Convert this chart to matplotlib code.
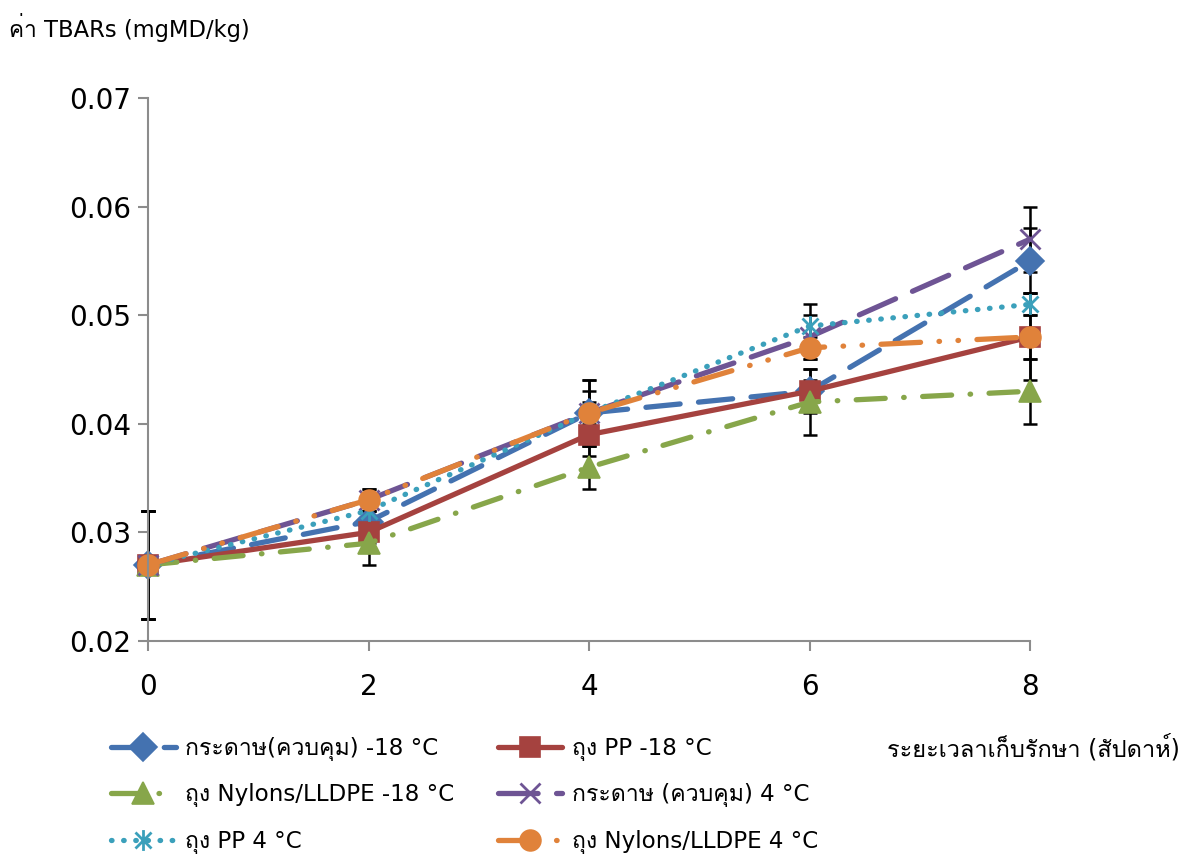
import numpy as np
import matplotlib
matplotlib.use('Agg')
import matplotlib.pyplot as plt
import matplotlib.font_manager as fm
from matplotlib.ft2font import FT2Font
from matplotlib.path import Path

# data
weeks = [0, 2, 4, 6, 8]
paper_m18 = [0.027, 0.031, 0.041, 0.043, 0.055]
pp_m18 = [0.027, 0.030, 0.039, 0.043, 0.048]
nylon_m18 = [0.027, 0.029, 0.036, 0.042, 0.043]
paper_4 = [0.027, 0.033, 0.041, 0.048, 0.057]
pp_4 = [0.027, 0.032, 0.041, 0.049, 0.051]
nylon_4 = [0.027, 0.033, 0.041, 0.047, 0.048]

err_paper_m18 = [0.005, 0.001, 0.001, 0.001, 0.003]
err_pp_m18 = [0.005, 0.001, 0.002, 0.002, 0.004]
err_nylon_m18 = [0.005, 0.002, 0.002, 0.003, 0.003]
err_paper_4 = [0.005, 0.001, 0.003, 0.002, 0.003]
err_pp_4 = [0.005, 0.001, 0.002, 0.002, 0.001]
err_nylon_4 = [0.005, 0.001, 0.003, 0.001, 0.002]

labels = ['กระดาษ(ควบคุม) -18 °C', 'ถุง PP -18 °C', 'ถุง Nylons/LLDPE -18 °C',
          'กระดาษ (ควบคุม) 4 °C', 'ถุง PP 4 °C', 'ถุง Nylons/LLDPE 4 °C']
y_ticks = [0.02, 0.03, 0.04, 0.05, 0.06, 0.07]
y_title = 'ค่า TBARs (mgMD/kg)'
x_title = 'ระยะเวลาเก็บรักษา (สัปดาห์)'


def thai_family():
    # pick an installed font that has Thai glyphs
    for f in fm.fontManager.ttflist:
        try:
            if 0x0E01 in FT2Font(f.fname).get_charmap():
                return f.name
        except Exception:
            pass
    return 'DejaVu Sans'


plt.rcParams['font.family'] = ['DejaVu Sans', thai_family()]

star = Path([(-1, -1), (1, 1), (-1, 1), (1, -1), (0, -1.3), (0, 1.3)],
            [Path.MOVETO, Path.LINETO, Path.MOVETO, Path.LINETO, Path.MOVETO, Path.LINETO])

series = [
    (paper_m18, err_paper_m18, '#4472B0', (0, (6.5, 3.5)), 'D', 14),
    (pp_m18, err_pp_m18, '#A5423F', '-', 's', 15),
    (nylon_m18, err_nylon_m18, '#87A64A', (0, (5.5, 3.5, 0.1, 3.5)), '^', 16),
    (paper_4, err_paper_4, '#6E5494', (0, (7.5, 3.5)), 'x', 14),
    (pp_4, err_pp_4, '#3BA0BB', (0, (0.1, 2.2)), star, 15),
    (nylon_4, err_nylon_4, '#E0823A', (0, (7.5, 3.5, 0.1, 3.5, 0.1, 3.5)), 'o', 15),
]

fig = plt.figure(figsize=(11.83, 8.6), dpi=100)
ax = fig.add_axes([0.1251, 0.2547, 0.7456, 0.6313])

handles = []
for (vals, errs, col, ls, mk, ms), lab in zip(series, labels):
    eb = ax.errorbar(weeks, vals, yerr=errs, fmt='none', ecolor='black',
                     elinewidth=1.8, capsize=5, capthick=1.8, zorder=1.5)
    for a in eb.lines[1] + eb.lines[2]:
        a.set_clip_on(False)
    filled = mk != 'x' and mk is not star
    h, = ax.plot(weeks, vals, color=col, lw=3.8, ls=ls, dash_capstyle='round',
                 solid_capstyle='round', marker=mk, ms=ms,
                 markerfacecolor=col if filled else 'none',
                 markeredgecolor=col, markeredgewidth=1.2 if filled else 2,
                 label=lab, zorder=2, clip_on=False)
    handles.append(h)

ax.set_xlim(0, 8)
ax.set_ylim(0.02, 0.07)
ax.set_xticks(weeks)
ax.set_yticks(y_ticks)
ax.set_yticklabels(['%.2f' % t for t in y_ticks])
for s in ['top', 'right']:
    ax.spines[s].set_visible(False)
for s in ['left', 'bottom']:
    ax.spines[s].set_color('#8C8C8C')
    ax.spines[s].set_linewidth(1.5)
ax.tick_params(axis='y', colors='#8C8C8C', length=7, width=1.5, pad=5,
               labelcolor='black', labelsize=20)
ax.tick_params(axis='x', colors='#8C8C8C', length=7, width=1.5, pad=16,
               labelcolor='black', labelsize=20)

fig.text(0.008, 1 - 28 / 860, y_title, fontsize=16.3, ha='left', va='center')
fig.text(0.997, 1 - 748 / 860, x_title, fontsize=17, ha='right', va='center')

order = [0, 2, 4, 1, 3, 5]
fig.legend([handles[i] for i in order], [labels[i] for i in order], ncol=2,
           loc='upper left', bbox_to_anchor=(0.086, 0.154),
           frameon=False, fontsize=16.6, handlelength=2.8, handletextpad=0.4,
           columnspacing=1.9, labelspacing=0.98, borderaxespad=0)

fig.savefig('out.png', dpi=100)
